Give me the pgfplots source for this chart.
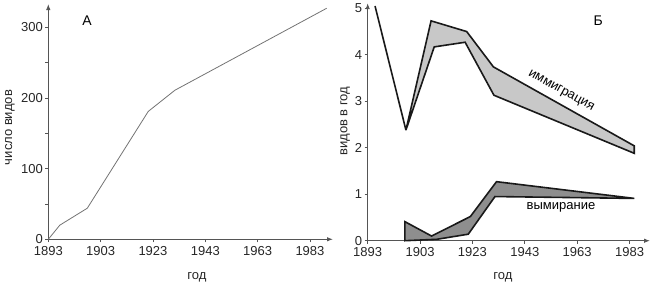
\documentclass[border=0pt]{standalone}
\usepackage{pgfplots}
\pgfplotsset{compat=1.18}
\usetikzlibrary{arrows.meta}
\usepackage{fontspec}
\setmainfont{Liberation Sans}
\definecolor{axc}{HTML}{555555}
\definecolor{immig}{HTML}{C8C8C8}
\definecolor{extin}{HTML}{8E8E8E}
\begin{document}
\begin{tikzpicture}
\useasboundingbox (0,0) rectangle (665pt,285pt);
\pgfplotsset{
  common/.style={
    scale only axis, clip=false,
    axis lines=left,
    axis line style={axc, line width=0.9pt, -{Latex[length=6pt,width=4.5pt]}},
    tick style={axc, line width=0.8pt},
    tick align=outside, major tick length=3pt,
    xmin=0, ymin=0,
    xtick={0,1,2,3,4,5},
    xticklabels={1893,1903,1923,1943,1963,1983},
    tick label style={font=\fontsize{13}{15}\selectfont, text=black!85},
    label style={font=\fontsize{13}{15}\selectfont, text=black!85},
    /pgf/number format/assume math mode=true,
    xticklabel style={yshift=-0.5pt},
    yticklabel style={xshift=1pt},
  }
}
% Panel A
\begin{axis}[common,
  at={(48.3pt,45.7pt)}, anchor=south west,
  width=284.7pt, height=235.3pt,
  xmax=5.44, ymax=333,
  ytick={0,50,100,150,200,250,300},
  yticklabels={0,,100,,200,,300},
  xlabel={год}, ylabel={число видов},
  xlabel style={at={(axis description cs:0.522,-0.16)}, anchor=center},
  ylabel style={at={(axis description cs:-0.135,0.475)}, anchor=center},
]
\addplot[color=black!55, line width=0.8pt] coordinates {
  (0,0) (0.22,20) (0.745,44) (1.91,181) (2.42,211) (5.32,327)
};
\node[font=\fontsize{14}{16}\selectfont] at (axis cs:0.74,310) {А};
\end{axis}
% Panel B
\begin{axis}[common,
  at={(367.7pt,44.3pt)}, anchor=south west,
  width=282.3pt, height=237.5pt,
  xmax=5.39, ymax=5.11,
  ytick={0,1,2,3,4,5},
  yticklabels={0,1,2,3,4,5},
  xlabel={год}, ylabel={видов в год},
  xlabel style={at={(axis description cs:0.479,-0.153)}, anchor=center},
  ylabel style={at={(axis description cs:-0.08,0.504)}, anchor=center},
]
\addplot[fill=immig, draw=black!90, line width=1.6pt] coordinates {
  (0.73,2.38) (1.21,4.73) (1.89,4.50) (2.40,3.74) (5.09,2.04)
  (5.09,1.88) (2.41,3.13) (1.86,4.27) (1.27,4.17)
} -- cycle;
\addplot[draw=black!90, line width=1.6pt] coordinates {
  (0.14,5.05) (0.73,2.38)
};
\addplot[fill=extin, draw=black!90, line width=1.6pt] coordinates {
  (0.71,0) (0.71,0.41) (1.22,0.10) (1.96,0.52) (2.46,1.27) (5.09,0.91)
  (2.43,0.95) (1.92,0.14) (1.32,0.03)
} -- cycle;
\node[font=\fontsize{13}{15}\selectfont, rotate=-29] at (axis cs:3.69,3.22) {иммиграция};
\node[font=\fontsize{13}{15}\selectfont] at (axis cs:3.69,0.725) {вымирание};
\node[font=\fontsize{14}{16}\selectfont] at (axis cs:4.40,4.73) {Б};
\end{axis}
\end{tikzpicture}
\end{document}
